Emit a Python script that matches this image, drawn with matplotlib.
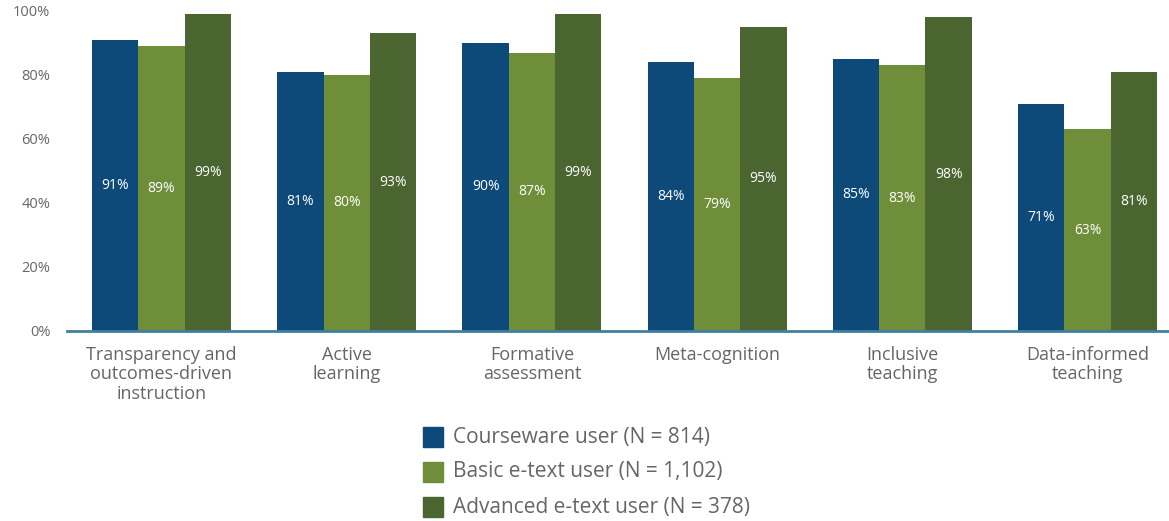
import matplotlib
matplotlib.use("Agg")
import matplotlib.pyplot as plt
from matplotlib.patches import Rectangle
import numpy as np

categories = ["Transparency and\noutcomes-driven\ninstruction", "Active\nlearning",
              "Formative\nassessment", "Meta-cognition", "Inclusive\nteaching",
              "Data-informed\nteaching"]
series_names = ["Courseware user (N = 814)", "Basic e-text user (N = 1,102)",
                "Advanced e-text user (N = 378)"]
courseware = [91, 81, 90, 84, 85, 71]
basic = [89, 80, 87, 79, 83, 63]
advanced = [99, 93, 99, 95, 98, 81]
y_ticks = [0, 20, 40, 60, 80, 100]

colors = ["#0E4A79", "#6E8E3A", "#4A6530"]
plt.rcParams['font.family'] = ['Open Sans', 'DejaVu Sans']

W, H = 1169, 521
fig = plt.figure(figsize=(W/100, H/100), dpi=100)
ax = fig.add_axes([67/W, (H-331)/H, 1-67/W, 320/H])

x = np.arange(len(categories))
bw = 0.25
for i, (vals, c) in enumerate(zip([courseware, basic, advanced], colors)):
    pos = x + (i-1)*bw
    ax.bar(pos, vals, width=bw, color=c, linewidth=0)
    for p, v in zip(pos, vals):
        ax.text(p, v/2, f"{v}%", ha="center", va="center", color="white", fontsize=10)

ax.set_xlim(-0.51, 5.44)
ax.set_ylim(0, 100)
ax.set_yticks(y_ticks)
ax.set_yticklabels([f"{t}%" for t in y_ticks], color="#666666", fontsize=10.5)
ax.set_xticks(x)
ax.set_xticklabels(categories, color="#666666", fontsize=13, linespacing=1.08)
ax.tick_params(length=0)
ax.tick_params(axis="y", pad=12)
ax.tick_params(axis="x", pad=11)
for s in ["top", "right", "left"]:
    ax.spines[s].set_visible(False)
ax.spines["bottom"].set_color("#3F80A0")
ax.spines["bottom"].set_linewidth(2)
ax.spines["bottom"].set_zorder(5)

# legend
for i, (name, c) in enumerate(zip(series_names, colors)):
    cy = 437 + i*35
    fig.patches.append(Rectangle((423/W, (H-cy-10)/H), 20/W, 20/H, transform=fig.transFigure,
                                 color=c, figure=fig))
    fig.text(453/W, (H-cy)/H, name, ha="left", va="center", color="#666666", fontsize=15)

fig.savefig("out.png", dpi=100)
